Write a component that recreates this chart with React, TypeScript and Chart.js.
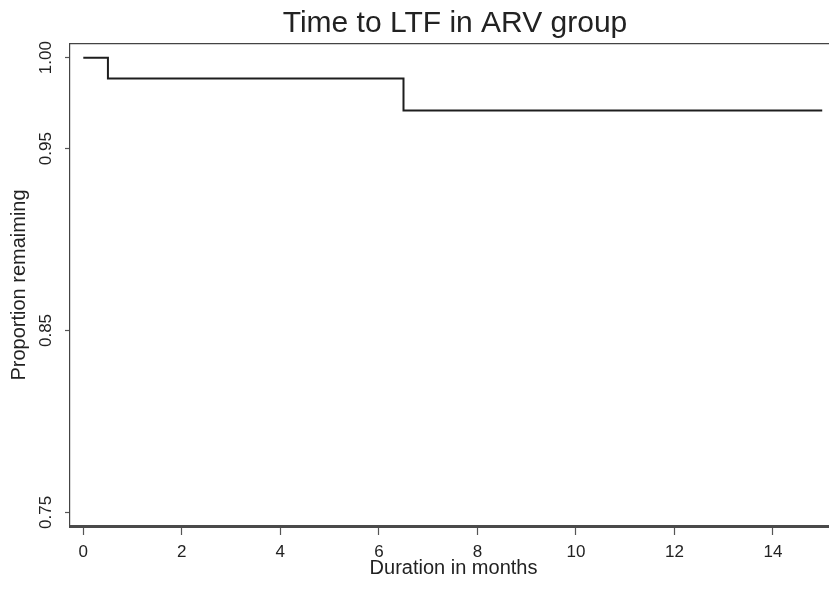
import { useEffect, useRef } from "react";
import { Chart, registerables } from "chart.js";

Chart.register(...registerables);

// Kaplan-Meier estimate: time (months) and proportion still in follow-up
const months = [0, 0.5, 6.5, 15];
const proportionRemaining = [1.0, 0.9885, 0.971, 0.971];

// Axis ticks
const xTickValues = [0, 2, 4, 6, 8, 10, 12, 14];
const yTickValues = [0.75, 0.85, 0.95, 1.0];

const chartTitle = "Time to LTF in ARV group";
const xTitle = "Duration in months";
const yTitle = "Proportion remaiming";

const FONT = '"Liberation Sans", Arial, Helvetica, sans-serif';
const INK = "#222";

export default function App() {
  const ref = useRef<HTMLCanvasElement>(null);

  useEffect(() => {
    const canvas = ref.current;
    if (!canvas) return;
    const chart = new Chart(canvas, {
      type: "line",
      data: {
        datasets: [
          {
            data: months.map((m, i) => ({ x: m, y: proportionRemaining[i] })),
            stepped: true,
            borderColor: "#1e1e1e",
            borderWidth: 2,
            pointRadius: 0,
            fill: false,
          },
        ],
      },
      options: {
        responsive: false,
        animation: false,
        devicePixelRatio: 1,
        layout: { padding: 0 },
        plugins: {
          legend: { display: false },
          tooltip: { enabled: false },
          title: {
            display: true,
            text: chartTitle,
            color: INK,
            font: { family: FONT, size: 30, weight: "normal" },
            padding: { top: 6, bottom: 2 },
          },
        },
        scales: {
          x: {
            type: "linear",
            position: "bottom",
            min: -0.27,
            max: 15.3,
            afterBuildTicks: (s: any) => {
              s.ticks = xTickValues.map((v) => ({ value: v }));
            },
            afterFit: (s: any) => {
              s.height = 66;
            },
            ticks: {
              color: INK,
              font: { family: FONT, size: 17 },
              padding: 7,
              maxRotation: 0,
              autoSkip: false,
              callback: (v: any) => String(v),
            },
            grid: {
              drawOnChartArea: false,
              drawTicks: true,
              tickLength: 9,
              tickColor: "#555",
              tickWidth: 1.2,
            },
            border: { display: true, color: "#4a4a4a", width: 3 },
            title: {
              display: true,
              text: xTitle,
              color: INK,
              font: { family: FONT, size: 20 },
              padding: { top: 0, bottom: 12 },
            },
          },
          xTop: {
            type: "linear",
            position: "top",
            min: -0.27,
            max: 15.3,
            ticks: { display: false },
            grid: { drawOnChartArea: false, drawTicks: false },
            border: { display: true, color: "#444", width: 1.2 },
          },
          y: {
            type: "linear",
            position: "left",
            min: 0.7425,
            max: 1.0075,
            afterBuildTicks: (s: any) => {
              s.ticks = yTickValues.map((v) => ({ value: v }));
            },
            afterFit: (s: any) => {
              s.width = 70;
            },
            ticks: {
              color: INK,
              font: { family: FONT, size: 17 },
              padding: 2,
              minRotation: 90,
              maxRotation: 90,
              crossAlign: "center",
              callback: (v: any) => Number(v).toFixed(2),
            },
            grid: {
              drawOnChartArea: false,
              drawTicks: true,
              tickLength: 5,
              tickColor: "#555",
              tickWidth: 1.2,
            },
            border: { display: true, color: "#444", width: 1.2 },
            title: {
              display: true,
              text: yTitle,
              color: INK,
              font: { family: FONT, size: 20 },
              padding: { top: 7, bottom: 0 },
            },
          },
          // empty right-hand margin of the graph region
          yRight: {
            type: "linear",
            position: "right",
            min: 0.7425,
            max: 1.0075,
            afterFit: (s: any) => {
              s.width = 73;
            },
            ticks: { display: false },
            grid: { drawOnChartArea: false, drawTicks: false },
            border: { display: false },
          },
        },
      },
    } as any);
    return () => chart.destroy();
  }, []);

  return (
    <div
      style={{
        position: "absolute",
        left: 0,
        top: 0,
        width: 829,
        height: 592,
        overflow: "hidden",
        background: "#fff",
      }}
    >
      <canvas ref={ref} width={910} height={592} style={{ width: 910, height: 592, display: "block" }} />
    </div>
  );
}
